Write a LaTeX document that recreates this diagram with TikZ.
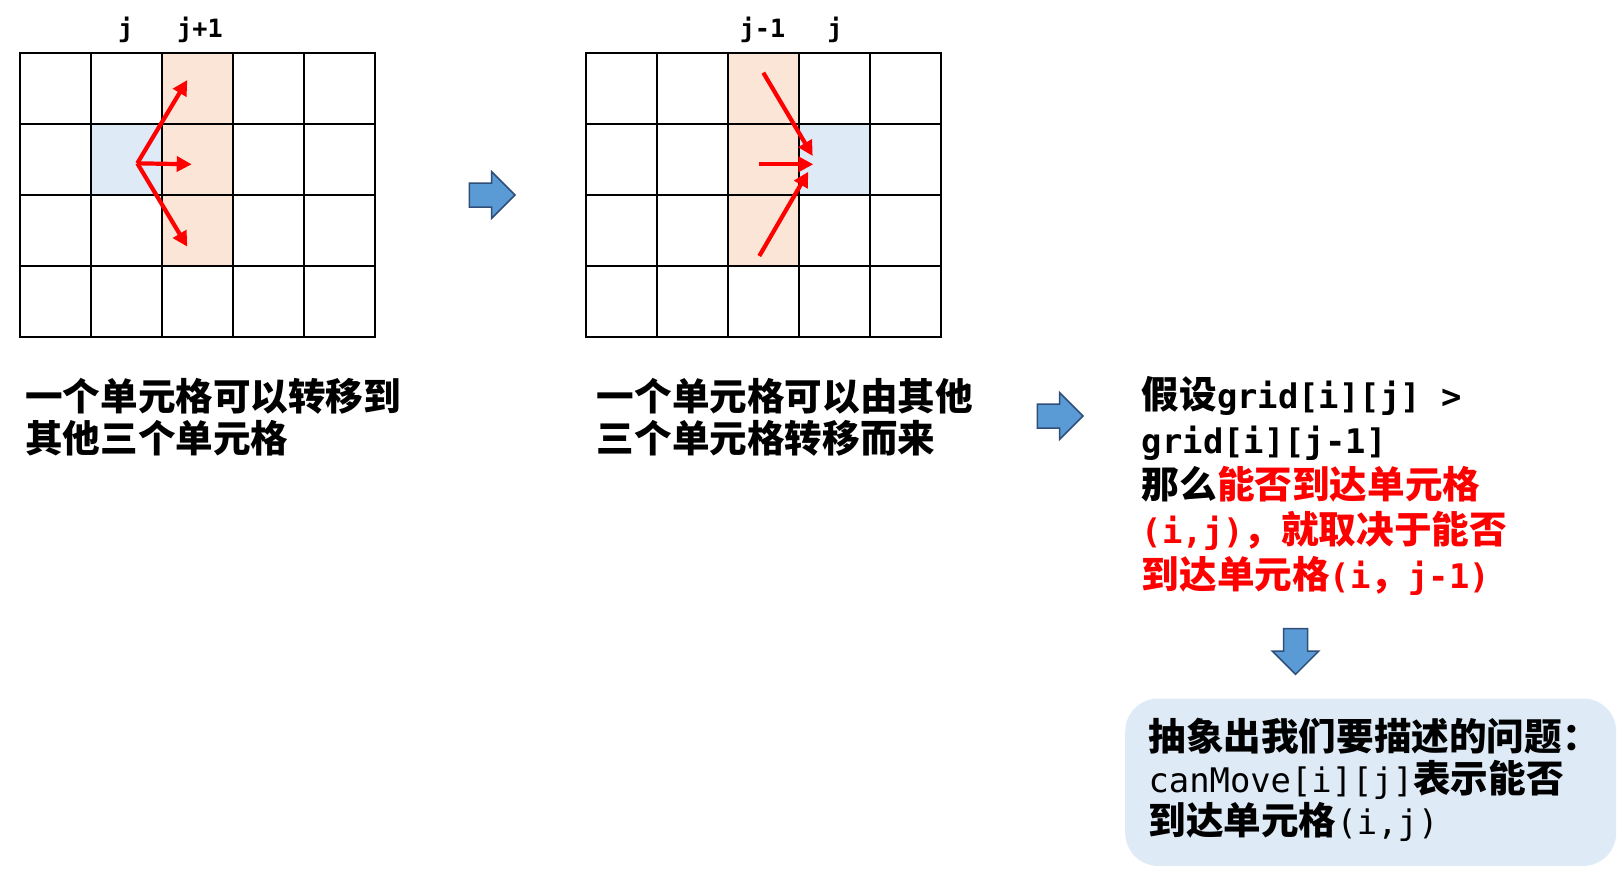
\documentclass[tikz,border=0pt]{standalone}
\usepackage{fontspec}
\setmainfont{Noto Sans CJK SC}
\setmonofont{DejaVu Sans Mono}[Scale=0.9]
\usepackage{xcolor}
\usetikzlibrary{arrows.meta, positioning, calc}

\definecolor{cellorange}{HTML}{FBE5D6}
\definecolor{cellblue}{HTML}{DEEBF7}
\definecolor{arrowblue}{HTML}{5B9BD5}
\definecolor{arrowedge}{HTML}{2F4E79}

\tikzset{
  gridline/.style={line width=2pt, black, line cap=rect},
  move/.style={red, line width=4.2pt, -{Triangle[length=15pt, width=15pt]}},
  collabel/.style={font=\fontsize{28}{30}\selectfont\ttfamily\bfseries, inner sep=0pt, anchor=base},
  bigtext/.style={font=\fontsize{37.6}{41.7}\selectfont\bfseries, align=left, inner sep=0pt, anchor=base west},
  goalbox/.style={fill=cellblue, rounded corners=33pt, minimum width=491pt, minimum height=167.4pt, anchor=north west},
  blockarrow/.pic={\draw[arrowedge, fill=arrowblue, line width=1.5pt] (-22.4,-12) -- (0,-12) -- (0,-23.3) -- (23.3,0) -- (0,23.3) -- (0,12) -- (-22.4,12) -- cycle;}
}

\begin{document}
\begin{tikzpicture}[x=1pt, y=-1pt]
\useasboundingbox (0,0) rectangle (1622,873);

% Left grid: one cell moves to three others
\fill[cellorange] (161.7,52.7) rectangle (232.7,265.7);
\fill[cellblue] (90.7,123.7) rectangle (161.7,194.7);
\foreach \c in {0,...,5} {
    \draw[gridline] (20+71*\c,52.7) -- (20+71*\c,336.7);
}
\foreach \r in {0,...,4} {
    \draw[gridline] (20,52.7+71*\r) -- (375,52.7+71*\r);
}
\node[collabel] (lblJ) at (125.7,37) {j};
\node[collabel] (lblJnext) at (200,37) {j+1};

\coordinate (from) at (137.3,163.3);
\coordinate (toUp) at (187.3,80);
\coordinate (toMid) at (191.7,164.3);
\coordinate (toDown) at (187.3,246.7);
\draw[move] (from) -- (toUp);
\draw[move] (from) -- (toMid);
\draw[move] (from) -- (toDown);

% Right grid: one cell reached from three others
\fill[cellorange] (727.7,52.7) rectangle (798.7,265.7);
\fill[cellblue] (798.7,123.7) rectangle (869.7,194.7);
\foreach \c in {0,...,5} {
    \draw[gridline] (585.7+71*\c,52.7) -- (585.7+71*\c,336.7);
}
\foreach \r in {0,...,4} {
    \draw[gridline] (585.7,52.7+71*\r) -- (940.7,52.7+71*\r);
}
\node[collabel] (lblJprev) at (762.5,37) {j-1};
\node[collabel] (lblJcur) at (835,37) {j};

\coordinate (fromUp) at (763.3,72.7);
\coordinate (fromMid) at (759.3,164.3);
\coordinate (fromDown) at (759.3,256);
\coordinate (toUpR) at (812.7,156);
\coordinate (toMidR) at (813.3,164.3);
\coordinate (toDownR) at (808.3,171.7);
\draw[move] (fromUp) -- (toUpR);
\draw[move] (fromMid) -- (toMidR);
\draw[move] (fromDown) -- (toDownR);

% Captions (placed at the baseline of their last line)
\node[bigtext] (capLeft) at (25,452.6) {一个单元格可以转移到\\其他三个单元格};
\node[bigtext] (capMid) at (596.7,452.6) {一个单元格可以由其他\\三个单元格转移而来};
\node[bigtext, font=\fontsize{37.6}{45.1}\selectfont\bfseries] (capRight) at (1141.7,588.8)
    {假设{\ttfamily grid[i][j] >}\\
     {\ttfamily grid[i][j-1]}\\
     那么\textcolor{red}{能否到达单元格}\\
     \textcolor{red}{{\ttfamily (i,j)}，就取决于能否}\\
     \textcolor{red}{到达单元格{\ttfamily (i}，{\ttfamily j-1)}}};

% Block arrows
\pic (arrA) at (491.7,195) {blockarrow};
\pic (arrB) at (1059.7,416) {blockarrow};
\pic[rotate=-90] (arrC) at (1295.5,651) {blockarrow};

% Result box
\node[goalbox] (goal) at (1125,698.3) {};
\node[bigtext] (goalText) at (1148.3,834.3)
    {抽象出我们要描述的问题：\\
     {\ttfamily\mdseries canMove[i][j]}表示能否\\
     到达单元格{\ttfamily\mdseries (i,j)}};
\end{tikzpicture}
\end{document}
